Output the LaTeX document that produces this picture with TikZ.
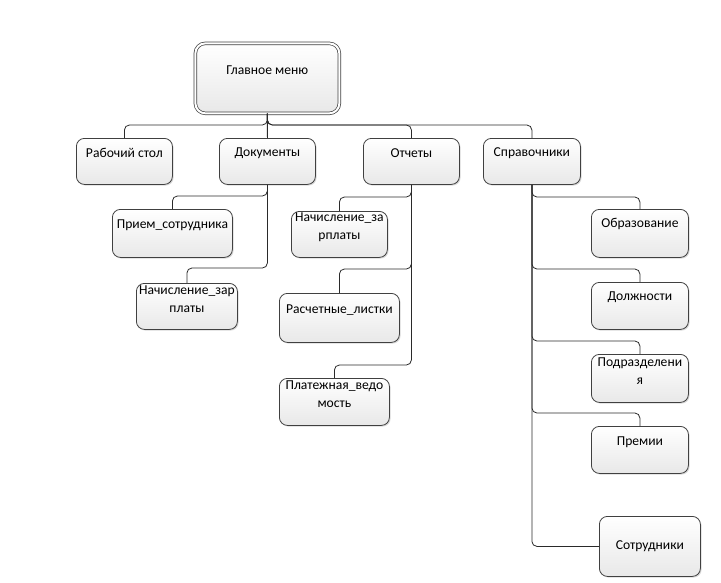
\documentclass[tikz,border=0pt]{standalone}
\usepackage{fontspec}
\setmainfont{Carlito}
\usetikzlibrary{shadows,calc}
\definecolor{edge}{HTML}{404040}
\definecolor{wire}{HTML}{2A2A2A}
\tikzset{
  x=1pt, y=-1pt,
  box/.style={draw=edge, line width=0.8pt, rounded corners=8pt,
    top color=white, bottom color=black!9,
    drop shadow={shadow xshift=1.2pt, shadow yshift=-1.2pt, opacity=0.25, fill=black!60},
    inner sep=0, anchor=north west},
  txt/.style={font=\fontsize{13.6}{17.5}\selectfont, align=center, inner sep=0, text=black},
  conn/.style={draw=wire, line width=0.8pt, rounded corners=5pt},
}
\newcommand{\bx}[5]{% name, x1, y1, x2, y2
  \node[box, minimum width=#4pt-#2pt, minimum height=#5pt-#3pt] (#1) at (#2,#3) {};}
\begin{document}
\begin{tikzpicture}
\useasboundingbox (0,0) rectangle (721,582);
% main box with double border
\node[box, minimum width=144pt, minimum height=70pt, double=white, double distance=2pt, line width=0.7pt, rounded corners=10pt] (main) at (195,43) {};
\node[txt] (tmain) at ($(main.north)+(0,27)$) {Главное меню};

\bx{rs}{76}{138}{172}{184}
\bx{doc}{219}{138}{315}{184}
\bx{otch}{363}{138}{459}{184}
\bx{sprav}{483}{138}{580}{184}

\bx{priem}{112}{209}{232}{257}
\bx{nachA}{136}{283}{237}{329}

\bx{nachB}{291}{211}{387}{257}
\bx{rasch}{279}{293}{399}{342}
\bx{plat}{279}{378}{389}{425}

\bx{obr}{591}{209}{688}{257}
\bx{dolzh}{591}{282}{688}{329}
\bx{podr}{591}{354}{688}{402}
\bx{prem}{591}{426}{688}{473}
\bx{sotr}{599}{516}{700}{576}

\node[txt] (trs) at ($(rs.north)+(0,15)$) {Рабочий стол};
\node[txt] (tdoc) at ($(doc.north)+(0,15)$) {Документы};
\node[txt] (totch) at ($(otch.north)+(0,15)$) {Отчеты};
\node[txt] (tsprav) at ($(sprav.north)+(0,15)$) {Справочники};
\node[txt] (tpriem) at ($(priem.north)+(0,16)$) {Прием\_сотрудника};
\node[txt] (tnachA) at ($(nachA.north)+(0,16)$) {Начисление\_зар\\платы};
\node[txt] (tnachB) at ($(nachB.north)+(0,16)$) {Начисление\_за\\рплаты};
\node[txt] (trasch) at ($(rasch.north)+(0,17)$) {Расчетные\_листки};
\node[txt] (tplat) at ($(plat.north)+(0,16)$) {Платежная\_ведо\\мость};
\node[txt] (tobr) at ($(obr.north)+(0,15)$) {Образование};
\node[txt] (tdolzh) at ($(dolzh.north)+(0,15)$) {Должности};
\node[txt] (tpodr) at ($(podr.north)+(0,17)$) {Подразделени\\я};
\node[txt] (tprem) at ($(prem.north)+(0,16)$) {Премии};
\node[txt] (tsotr) at (sotr.center) {Сотрудники};

% level 1
\draw[conn] (main.south) -- (main.south |- 0,125) -- (rs.north |- 0,125) -- (rs.north);
\draw[conn] (main.south) -- (doc.north);
\draw[conn] (main.south) -- (main.south |- 0,125) -- (otch.north |- 0,125) -- (otch.north);
\draw[conn] (main.south) -- (main.south |- 0,125) -- (sprav.north |- 0,125) -- (sprav.north);

% documents
\draw[conn] (doc.south) -- (doc.south |- 0,196) -- (priem.north |- 0,196) -- (priem.north);
\draw[conn] (doc.south) -- (doc.south |- 0,268) -- (nachA.north |- 0,268) -- (nachA.north);

% reports
\draw[conn] (otch.south) -- (otch.south |- 0,197) -- (nachB.north |- 0,197) -- (nachB.north);
\draw[conn] (otch.south) -- (otch.south |- 0,269) -- (rasch.north |- 0,269) -- (rasch.north);
\draw[conn] (otch.south) -- (otch.south |- 0,365) -- (plat.north |- 0,365) -- (plat.north);

% references
\draw[conn] (sprav.south) -- (sprav.south |- 0,197) -- (obr.north |- 0,197) -- (obr.north);
\draw[conn] (sprav.south) -- (sprav.south |- 0,269) -- (dolzh.north |- 0,269) -- (dolzh.north);
\draw[conn] (sprav.south) -- (sprav.south |- 0,341) -- (podr.north |- 0,341) -- (podr.north);
\draw[conn] (sprav.south) -- (sprav.south |- 0,413) -- (prem.north |- 0,413) -- (prem.north);
\draw[conn] (sprav.south) -- (sprav.south |- sotr.west) -- (sotr.west);
\end{tikzpicture}
\end{document}
